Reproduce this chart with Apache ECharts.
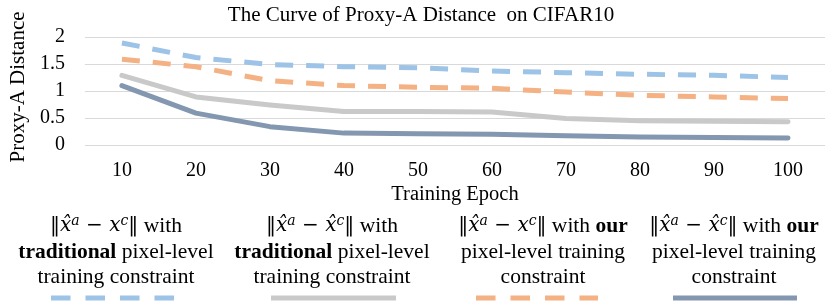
<!DOCTYPE html>
<html>
<head>
<meta charset="utf-8">
<script src="https://cdn.jsdelivr.net/npm/echarts@6/dist/echarts.min.js"></script>
<style>
html,body{margin:0;padding:0;background:#fff;}
#chart{width:830px;height:305px;}
</style>
</head>
<body>
<div id="chart"></div>
<script>
const epochs = ['10','20','30','40','50','60','70','80','90','100'];
const seriesNames = ['hatA_minus_c_traditional','hatA_minus_hatC_traditional','hatA_minus_c_our','hatA_minus_hatC_our'];
const blueTraditional = [1.89, 1.62, 1.49, 1.45, 1.43, 1.37, 1.34, 1.31, 1.29, 1.25];
const grayTraditional = [1.29, 0.89, 0.74, 0.62, 0.62, 0.61, 0.49, 0.45, 0.44, 0.43];
const orangeOur = [1.59, 1.45, 1.19, 1.10, 1.07, 1.05, 0.98, 0.92, 0.89, 0.86];
const darkOur = [1.10, 0.59, 0.34, 0.22, 0.21, 0.20, 0.17, 0.15, 0.14, 0.13];
const yTicks = [0, 0.5, 1, 1.5, 2];

const colors = ['#9DC3E6', '#C9C9C9', '#F4B183', '#8497B0'];
const FONT = 'Liberation Serif';
const MATH = 'DejaVu Serif';

const chart = echarts.init(document.getElementById('chart'), null, {renderer: 'canvas'});

function lineSeries(name, data, color, dashed) {
  return {
    name: name, type: 'line', data: data, symbol: 'none', smooth: false,
    lineStyle: {color: color, width: 5, type: dashed ? [18, 13] : 'solid', cap: dashed ? 'butt' : 'round', join: 'round'},
    itemStyle: {color: color},
    z: 3
  };
}

const LF = 21.5;
const rich = {
  n: {fontFamily: FONT, fontSize: LF, color: '#000'},
  b: {fontFamily: FONT, fontSize: LF, color: '#000', fontWeight: 'bold'},
  m: {fontFamily: MATH, fontSize: 20, color: '#000'},
  i: {fontFamily: MATH, fontSize: 20, fontStyle: 'italic', color: '#000'},
  s: {fontFamily: MATH, fontSize: 14, fontStyle: 'italic', color: '#000', verticalAlign: 'top', lineHeight: 24}
};
const mathAC = '{m|‖}{i|x\u0302}{s|a}{m| − }{i|x}{s|c}{m|‖}';
const mathAhC = '{m|‖}{i|x\u0302}{s|a}{m| − }{i|x\u0302}{s|c}{m|‖}';
const legendItems = [
  {cx: 116, lines: [mathAC + '{n| with}', '{b|traditional}{n| pixel-level}', '{n|training constraint}'], color: colors[0], dashed: true, x1: 51, x2: 174},
  {cx: 332, lines: [mathAhC + '{n| with}', '{b|traditional}{n| pixel-level}', '{n|training constraint}'], color: colors[1], dashed: false, x1: 271, x2: 396},
  {cx: 543, lines: [mathAC + '{n| with }{b|our}', '{n|pixel-level training}', '{n|constraint}'], color: colors[2], dashed: true, x1: 476, x2: 598},
  {cx: 734, lines: [mathAhC + '{n| with }{b|our}', '{n|pixel-level training}', '{n|constraint}'], color: colors[3], dashed: false, x1: 673, x2: 797}
];
const lineYs = [226, 252, 277];
const graphics = [];
legendItems.forEach(function (it) {
  it.lines.forEach(function (l, k) {
    graphics.push({type: 'text', silent: true,
      style: {text: l, rich: rich, x: it.cx, y: lineYs[k], align: 'center', verticalAlign: 'middle', fontFamily: FONT, fontSize: LF, fill: '#000'}});
  });
  graphics.push({type: 'line', silent: true,
    shape: {x1: it.x1, y1: 298, x2: it.x2, y2: 298},
    style: {stroke: it.color, lineWidth: 5, lineDash: it.dashed ? [19.5, 15] : null, lineCap: 'butt'}});
});

const option = {
  animation: false,
  backgroundColor: '#fff',
  title: {
    text: 'The Curve of Proxy-A Distance  on CIFAR10',
    left: 416, top: 0, textAlign: 'center',
    textStyle: {fontFamily: FONT, fontSize: 21, fontWeight: 'normal', color: '#000'}
  },
  grid: {left: 76, right: 5, top: 37, bottom: 160, containLabel: false},
  xAxis: {
    type: 'category', data: epochs, boundaryGap: true,
    name: 'Training Epoch', nameLocation: 'middle', nameGap: 39,
    nameTextStyle: {fontFamily: FONT, fontSize: 20.5, color: '#000'},
    axisLine: {show: false}, axisTick: {show: false},
    axisLabel: {fontFamily: FONT, fontSize: 20, color: '#000', margin: 16}
  },
  yAxis: {
    type: 'value', min: 0, max: 2, interval: 0.5,
    name: 'Proxy-A Distance', nameLocation: 'middle', nameGap: 48,
    nameTextStyle: {fontFamily: FONT, fontSize: 21, color: '#000', padding: [0, 0, 0, 8]},
    axisLine: {show: false}, axisTick: {show: false},
    axisLabel: {fontFamily: FONT, fontSize: 20, color: '#000', margin: 20,
      formatter: function (v) { return yTicks.indexOf(v) >= 0 ? String(v) : ''; }},
    splitLine: {lineStyle: {color: '#D9D9D9', width: 1}}
  },
  series: [
    lineSeries(seriesNames[0], blueTraditional, colors[0], true),
    lineSeries(seriesNames[1], grayTraditional, colors[1], false),
    lineSeries(seriesNames[2], orangeOur, colors[2], true),
    lineSeries(seriesNames[3], darkOur, colors[3], false)
  ],
  graphic: graphics
};
chart.setOption(option);
</script>
</body>
</html>
